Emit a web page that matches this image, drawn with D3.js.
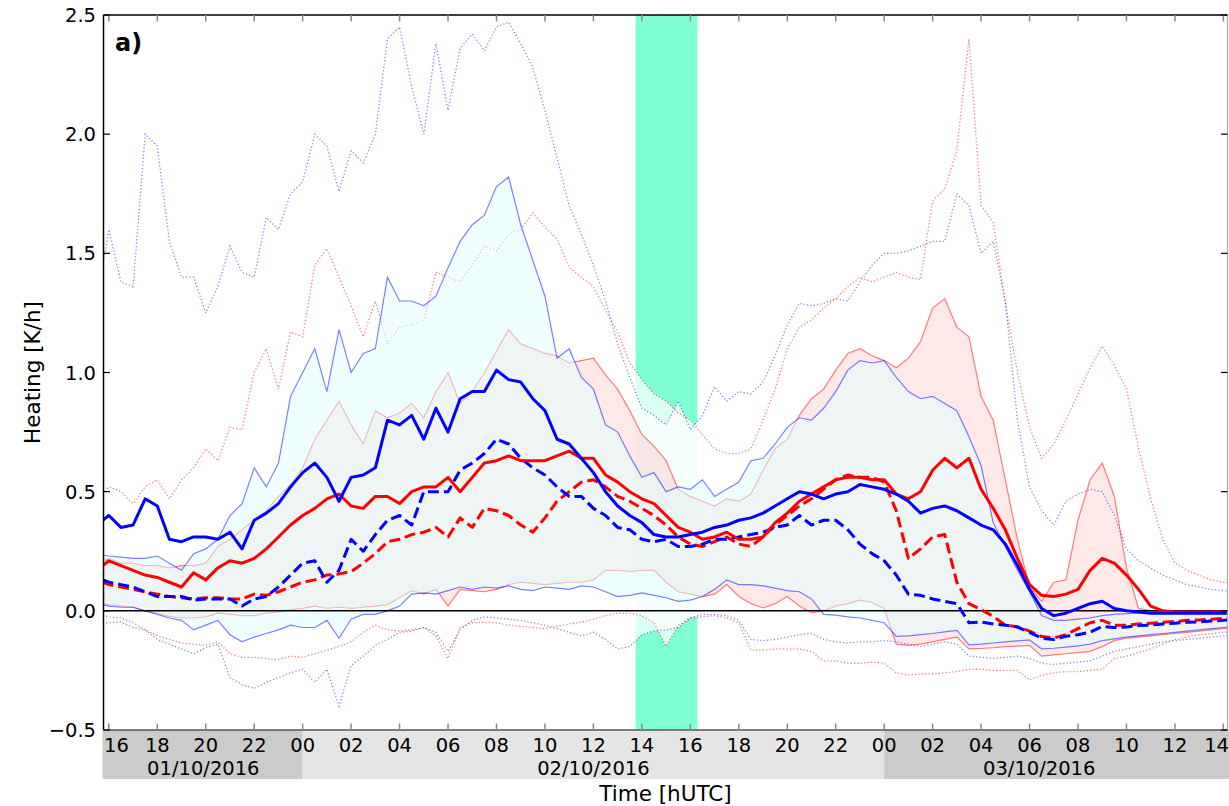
<!DOCTYPE html>
<html><head><meta charset="utf-8">
<script src="https://cdn.jsdelivr.net/npm/d3@7"></script>
<style>body{margin:0;background:#fff}svg{display:block}text{font-family:"DejaVu Sans",sans-serif;fill:#000}</style>
</head><body><svg id="c" width="1229" height="806"></svg>
<script>
// ---------------- data (hours since 01/10/2016 00 UTC) ----------------
const hours = [15.75, ...d3.range(16, 62.5, 0.5), 62.25];
const hourDomain = [15.78, 62.17];
const heatDomain = [-0.5, 2.5];
const band = [37.74, 40.29];
const xTickHours = d3.range(16, 63, 2);
const yTickValues = [-0.5, 0, 0.5, 1.0, 1.5, 2.0, 2.5];
const dayLabels = ["01/10/2016", "02/10/2016", "03/10/2016"];
const dayStart = [15.78, 24, 48];
const dayEnd = [24, 48, 62.25];
const dayCenter = [19.9, 36, 54.4];

const blueMean = [0.38,
 0.40,0.35,0.36,0.47,0.44,0.30,0.29,0.31,0.31,0.30,0.33,0.26,0.38,0.41,0.45,0.52,0.58,0.62,0.56,0.46,0.56,0.57,0.60,0.80,
 0.78,0.82,0.72,0.85,0.75,0.89,0.92,0.92,1.01,0.97,0.96,0.89,0.84,0.72,0.70,0.64,0.58,0.50,0.44,0.40,0.37,0.32,0.31,0.31,
 0.32,0.33,0.35,0.36,0.38,0.39,0.41,0.44,0.47,0.50,0.49,0.47,0.49,0.50,0.53,0.52,0.51,0.49,0.46,0.41,0.43,0.44,0.42,0.39,
 0.36,0.34,0.28,0.19,0.09,0.01,-0.02,-0.01,0.01,0.03,0.04,0.01,0.00,-0.005,-0.01,-0.01,-0.01,-0.01,-0.01,-0.01,
 -0.01,-0.01];
const redMean = [0.19,
 0.21,0.19,0.17,0.15,0.14,0.12,0.10,0.16,0.13,0.18,0.21,0.20,0.22,0.26,0.31,0.36,0.40,0.43,0.47,0.49,0.44,0.43,0.48,0.48,
 0.45,0.50,0.52,0.52,0.56,0.50,0.56,0.62,0.63,0.65,0.63,0.63,0.63,0.65,0.67,0.64,0.64,0.57,0.54,0.50,0.47,0.45,0.40,0.35,
 0.33,0.30,0.31,0.33,0.30,0.30,0.31,0.37,0.41,0.46,0.49,0.52,0.55,0.56,0.56,0.55,0.55,0.49,0.47,0.50,0.59,0.64,0.60,0.64,
 0.51,0.43,0.34,0.22,0.11,0.065,0.06,0.07,0.09,0.17,0.22,0.20,0.15,0.09,0.02,0.00,-0.005,-0.005,-0.005,-0.005,
 -0.005,-0.005];
const blueDash = [0.13,
 0.12,0.11,0.10,0.08,0.06,0.06,0.06,0.045,0.05,0.05,0.05,0.02,0.05,0.06,0.10,0.15,0.20,0.21,0.12,0.17,0.30,0.25,0.32,0.38,
 0.40,0.36,0.50,0.50,0.50,0.59,0.62,0.66,0.72,0.70,0.64,0.60,0.57,0.52,0.48,0.48,0.43,0.40,0.35,0.34,0.30,0.29,0.30,0.27,
 0.27,0.28,0.30,0.30,0.31,0.32,0.33,0.35,0.36,0.40,0.36,0.38,0.38,0.34,0.28,0.24,0.21,0.15,0.07,0.065,0.05,0.04,0.03,-0.05,
 -0.047,-0.055,-0.06,-0.068,-0.09,-0.115,-0.12,-0.107,-0.10,-0.09,-0.065,-0.07,-0.068,-0.062,-0.06,-0.055,-0.052,-0.048,-0.046,-0.043,
 -0.04,-0.038];
const redDash = [0.12,
 0.11,0.10,0.09,0.08,0.07,0.06,0.055,0.05,0.055,0.055,0.05,0.05,0.07,0.065,0.08,0.10,0.12,0.13,0.15,0.155,0.165,0.20,0.24,0.29,
 0.30,0.32,0.33,0.35,0.31,0.39,0.35,0.43,0.42,0.40,0.36,0.33,0.39,0.46,0.50,0.54,0.55,0.52,0.48,0.46,0.43,0.40,0.36,0.31,
 0.28,0.27,0.29,0.31,0.28,0.27,0.31,0.36,0.40,0.44,0.47,0.51,0.55,0.57,0.56,0.56,0.54,0.42,0.22,0.26,0.31,0.32,0.12,0.03,
 0.005,-0.023,-0.06,-0.067,-0.085,-0.108,-0.114,-0.10,-0.075,-0.05,-0.04,-0.06,-0.06,-0.055,-0.052,-0.048,-0.045,-0.04,-0.038,-0.035,
 -0.032,-0.03];
const blueUp = [0.235,
 0.23,0.225,0.22,0.22,0.23,0.20,0.17,0.24,0.26,0.30,0.40,0.45,0.60,0.52,0.62,0.90,1.00,1.10,0.92,1.18,1.00,1.08,1.10,1.40,
 1.30,1.30,1.28,1.32,1.44,1.55,1.62,1.66,1.78,1.82,1.62,1.47,1.32,1.06,1.10,0.98,0.93,0.78,0.75,0.65,0.56,0.58,0.50,0.52,
 0.51,0.55,0.48,0.51,0.54,0.63,0.64,0.70,0.77,0.81,0.80,0.85,0.92,1.01,1.05,1.04,1.05,0.98,0.92,0.89,0.90,0.87,0.84,0.73,
 0.61,0.37,0.27,0.17,0.08,-0.02,-0.04,-0.04,-0.035,-0.03,-0.02,-0.015,-0.012,-0.01,-0.01,-0.01,-0.01,-0.01,-0.01,-0.01,
 -0.01,-0.01];
const redUp = [0.21,
 0.22,0.20,0.20,0.19,0.19,0.18,0.19,0.19,0.20,0.27,0.30,0.34,0.38,0.42,0.48,0.53,0.60,0.72,0.80,0.88,0.78,0.70,0.84,0.81,
 0.83,0.87,0.81,0.92,1.00,0.87,0.92,1.00,1.09,1.18,1.12,1.10,1.08,1.07,1.04,1.05,1.06,0.99,0.93,0.84,0.74,0.69,0.63,0.51,
 0.48,0.46,0.44,0.47,0.46,0.49,0.59,0.68,0.72,0.82,0.89,0.93,1.01,1.08,1.10,1.07,1.05,1.02,1.06,1.13,1.27,1.31,1.19,1.15,
 0.90,0.80,0.55,0.30,0.10,0.04,0.12,0.13,0.38,0.55,0.62,0.48,0.18,0.01,0.00,-0.005,-0.01,-0.01,-0.01,-0.01,
 -0.01,-0.01];
const blueLo = [0.025,
 0.02,0.015,0.015,0.00,-0.015,-0.03,-0.04,-0.08,-0.06,-0.04,-0.10,-0.13,-0.11,-0.095,-0.08,-0.06,-0.07,-0.07,-0.04,-0.115,-0.035,-0.015,-0.015,0.00,
 0.02,0.07,0.075,0.07,0.085,0.10,0.09,0.10,0.095,0.105,0.09,0.085,0.10,0.095,0.09,0.105,0.10,0.08,0.06,0.065,0.075,0.065,0.055,0.04,
 0.045,0.06,0.09,0.13,0.11,0.11,0.105,0.095,0.085,0.08,0.05,-0.015,-0.018,-0.025,-0.03,-0.04,-0.05,-0.107,-0.105,-0.10,-0.095,-0.088,-0.082,-0.143,
 -0.14,-0.135,-0.13,-0.126,-0.122,-0.16,-0.157,-0.152,-0.147,-0.14,-0.125,-0.118,-0.11,-0.105,-0.10,-0.095,-0.09,-0.085,-0.08,-0.075,
 -0.07,-0.068];
const redLo = [0.03,
 0.025,0.02,0.015,0.00,-0.01,-0.023,-0.03,-0.03,-0.025,-0.01,-0.015,-0.02,-0.02,-0.01,-0.005,0.005,0.01,0.02,0.01,0.015,0.01,0.015,0.02,0.025,
 0.055,0.085,0.07,0.09,0.02,0.09,0.085,0.08,0.09,0.11,0.12,0.115,0.11,0.115,0.12,0.12,0.13,0.17,0.17,0.165,0.17,0.17,0.12,0.08,
 0.07,0.06,0.07,0.11,0.06,0.03,0.012,0.03,0.06,0.02,-0.008,0.00,0.02,0.03,0.045,0.035,0.01,-0.14,-0.145,-0.14,-0.13,-0.12,-0.11,-0.16,
 -0.158,-0.155,-0.15,-0.148,-0.145,-0.19,-0.185,-0.18,-0.175,-0.17,-0.15,-0.125,-0.115,-0.11,-0.105,-0.10,-0.095,-0.09,-0.085,-0.08,
 -0.075,-0.072];
const blueMax = [1.45,
 1.60,1.38,1.36,2.00,1.95,1.55,1.40,1.40,1.25,1.36,1.53,1.42,1.40,1.65,1.60,1.75,1.80,2.00,1.95,1.76,1.93,1.88,2.00,2.40,
 2.45,2.20,2.00,2.38,2.10,2.36,2.42,2.35,2.45,2.47,2.38,2.28,2.10,1.90,1.70,1.58,1.45,1.30,1.12,0.98,0.85,0.82,0.78,0.88,
 0.76,0.82,0.94,0.88,0.92,0.91,0.96,1.07,1.20,1.29,1.28,1.29,1.31,1.30,1.38,1.45,1.50,1.50,1.51,1.53,1.55,1.55,1.75,1.70,
 1.50,1.55,1.30,0.80,0.52,0.42,0.36,0.46,0.49,0.51,0.50,0.40,0.26,0.21,0.18,0.15,0.13,0.11,0.10,0.09,
 0.085,0.08];
const redMax = [0.49,
 0.52,0.50,0.45,0.52,0.55,0.47,0.55,0.60,0.68,0.63,0.77,0.76,1.00,1.10,0.93,1.17,1.15,1.45,1.52,1.40,1.28,1.15,1.30,1.12,
 1.19,1.20,1.22,1.42,1.40,1.38,1.45,1.53,1.51,1.58,1.60,1.67,1.61,1.56,1.44,1.40,1.36,1.26,1.17,1.04,0.97,0.91,0.88,0.83,
 0.80,0.74,0.68,0.66,0.66,0.68,0.80,0.93,1.10,1.19,1.22,1.27,1.31,1.36,1.40,1.38,1.40,1.42,1.40,1.39,1.72,1.77,1.93,2.40,
 1.70,1.63,1.29,1.00,0.77,0.64,0.70,0.80,0.91,1.02,1.11,1.03,0.93,0.68,0.47,0.30,0.20,0.17,0.15,0.13,
 0.12,0.12];
const blueMin = [-0.05,
 -0.05,-0.047,-0.07,-0.08,-0.12,-0.14,-0.16,-0.18,-0.155,-0.14,-0.28,-0.31,-0.325,-0.30,-0.28,-0.26,-0.245,-0.30,-0.245,-0.40,-0.23,-0.19,-0.145,-0.12,
 -0.09,-0.085,-0.07,-0.09,-0.17,-0.08,-0.04,-0.025,-0.03,-0.035,-0.04,-0.05,-0.06,-0.075,-0.09,-0.105,-0.09,-0.12,-0.16,-0.15,-0.10,-0.085,-0.08,-0.07,
 -0.03,-0.015,-0.015,-0.02,-0.04,-0.12,-0.125,-0.12,-0.11,-0.10,-0.095,-0.12,-0.13,-0.135,-0.13,-0.13,-0.125,-0.13,-0.14,-0.15,-0.14,-0.13,-0.14,-0.19,
 -0.195,-0.20,-0.195,-0.19,-0.20,-0.22,-0.225,-0.22,-0.215,-0.21,-0.19,-0.17,-0.16,-0.15,-0.14,-0.13,-0.125,-0.12,-0.115,-0.11,
 -0.105,-0.105];
const redMin = [-0.02,
 -0.025,-0.03,-0.05,-0.08,-0.105,-0.12,-0.135,-0.14,-0.145,-0.13,-0.18,-0.195,-0.195,-0.20,-0.205,-0.19,-0.195,-0.18,-0.165,-0.15,-0.13,-0.09,-0.06,-0.08,
 -0.085,-0.08,-0.07,-0.105,-0.20,-0.07,-0.05,-0.048,-0.05,-0.06,-0.065,-0.07,-0.075,-0.065,-0.055,-0.048,-0.035,-0.02,-0.01,-0.01,-0.02,-0.05,-0.15,-0.06,
 -0.03,-0.025,-0.02,-0.03,-0.05,-0.165,-0.165,-0.16,-0.16,-0.16,-0.17,-0.21,-0.21,-0.22,-0.22,-0.215,-0.22,-0.26,-0.27,-0.265,-0.265,-0.26,-0.255,-0.245,
 -0.245,-0.25,-0.25,-0.25,-0.29,-0.27,-0.26,-0.255,-0.255,-0.25,-0.245,-0.20,-0.19,-0.175,-0.16,-0.14,-0.12,-0.11,-0.10,-0.095,
 -0.09,-0.088];

// ---------------- drawing ----------------
const L = 103.5, R = 1227.5, T = 15, B = 730;
const x = d3.scaleLinear().domain(hourDomain).range([L, R]);
const y = d3.scaleLinear().domain(heatDomain).range([B, T]);
const svg = d3.select("#c");

const all = {blueMean, redMean, blueDash, redDash, blueUp, redUp, blueLo, redLo, blueMax, redMax, blueMin, redMin};
for (const k in all) if (all[k].length !== hours.length) console.error(k, all[k].length, hours.length);

svg.append("defs").append("clipPath").attr("id", "clip")
  .append("rect").attr("x", L).attr("y", T).attr("width", R - L).attr("height", B - T);
const g = svg.append("g").attr("clip-path", "url(#clip)");

const n = hours.length;
const idx = d3.range(n);
const area = (lo, hi) => d3.area().x(i => x(hours[i])).y0(i => y(lo[i])).y1(i => y(hi[i]))(idx);
const line = v => d3.line().x(i => x(hours[i])).y(i => y(v[i]))(idx);

// highlighted period
g.append("rect").attr("x", x(band[0])).attr("width", x(band[1]) - x(band[0]))
  .attr("y", T).attr("height", B - T).attr("fill", "#7fffd4");

// min-max envelopes (white, semi-opaque)
g.append("path").attr("d", area(redMin, redMax)).attr("fill", "#fff").attr("fill-opacity", 0.72);
g.append("path").attr("d", area(blueMin, blueMax)).attr("fill", "#fff").attr("fill-opacity", 0.72);

// red spread
g.append("path").attr("d", area(redLo, redUp)).attr("fill", "rgb(255,150,150)").attr("fill-opacity", 0.22);
[redMax, redMin].forEach(v => g.append("path").attr("d", line(v)).attr("fill", "none")
  .attr("stroke", "rgba(255,0,0,0.55)").attr("stroke-width", 1.3).attr("stroke-dasharray", "1.2,2.2"));
[redUp, redLo].forEach(v => g.append("path").attr("d", line(v)).attr("fill", "none")
  .attr("stroke", "rgba(255,0,0,0.5)").attr("stroke-width", 1.2));

// blue spread
g.append("path").attr("d", area(blueLo, blueUp)).attr("fill", "rgb(224,255,255)").attr("fill-opacity", 0.5);
[blueUp, blueLo].forEach(v => g.append("path").attr("d", line(v)).attr("fill", "none")
  .attr("stroke", "rgba(0,0,255,0.5)").attr("stroke-width", 1.2));
[blueMax, blueMin].forEach(v => g.append("path").attr("d", line(v)).attr("fill", "none")
  .attr("stroke", "rgba(0,0,255,0.5)").attr("stroke-width", 1.3).attr("stroke-dasharray", "1.2,2.2"));

// zero line
g.append("line").attr("x1", L).attr("x2", R).attr("y1", y(0)).attr("y2", y(0))
  .attr("stroke", "#000").attr("stroke-width", 1.5);

// main lines
const mainLine = (v, color, dash) => g.append("path").attr("d", line(v)).attr("fill", "none")
  .attr("stroke", color).attr("stroke-width", 3).attr("stroke-linejoin", "round")
  .attr("stroke-dasharray", dash || null);
mainLine(redDash, "#ff0000", "11,5");
mainLine(blueDash, "#0000ff", "11,5");
mainLine(redMean, "#ff0000");
mainLine(blueMean, "#0000ff");

// date bar
dayLabels.forEach((lab, i) => {
  const x0 = i === 0 ? L - 1 : x(dayStart[i]);
  const x1 = i === dayLabels.length - 1 ? 1229 : x(dayEnd[i]);
  svg.append("rect").attr("x", x0).attr("y", B).attr("width", x1 - x0).attr("height", 49)
    .attr("fill", i % 2 === 0 ? "#cbcbcb" : "#e5e5e5");
  svg.append("text").attr("x", x(dayCenter[i])).attr("y", 775).attr("text-anchor", "middle")
    .attr("font-size", 19.5).text(lab);
});

// spines
svg.append("line").attr("x1", L).attr("x2", R).attr("y1", T).attr("y2", T).attr("stroke", "#000").attr("stroke-width", 1.5);
svg.append("line").attr("x1", L).attr("x2", L).attr("y1", T).attr("y2", B).attr("stroke", "#000").attr("stroke-width", 1.5);
svg.append("line").attr("x1", R).attr("x2", R).attr("y1", T).attr("y2", B).attr("stroke", "#aaa").attr("stroke-width", 1.2);
svg.append("line").attr("x1", L).attr("x2", R).attr("y1", B).attr("y2", B).attr("stroke", "#555").attr("stroke-width", 1.5);

// x ticks (inside, top & bottom)
xTickHours.forEach(h => {
  const xp = x(h);
  svg.append("line").attr("x1", xp).attr("x2", xp).attr("y1", T).attr("y2", T + 6.5).attr("stroke", "#888").attr("stroke-width", 1.5);
  svg.append("line").attr("x1", xp).attr("x2", xp).attr("y1", B).attr("y2", B - 6.5).attr("stroke", "#888").attr("stroke-width", 1.5);
  const t = svg.append("text").attr("x", xp).attr("y", 752).attr("text-anchor", "middle").attr("font-size", 19.5)
    .text(String(h % 24).padStart(2, "0"));
  const w = t.node().getComputedTextLength();
  if (xp - w / 2 < L) t.attr("x", L + 0.5 + w / 2);
  if (xp + w / 2 > 1229) t.attr("x", 1229 - w / 2);
});

// y ticks (inside, left & right)
const fmt = d3.format(".1f");
yTickValues.forEach(v => {
  const yp = y(v);
  svg.append("line").attr("x1", L).attr("x2", L + 6.5).attr("y1", yp).attr("y2", yp).attr("stroke", "#000").attr("stroke-width", 1.2);
  svg.append("line").attr("x1", R).attr("x2", R - 6.5).attr("y1", yp).attr("y2", yp).attr("stroke", "#000").attr("stroke-width", 1.2);
  svg.append("text").attr("x", 96).attr("y", yp + 7).attr("text-anchor", "end").attr("font-size", 19.5).text(fmt(v));
});

// labels
svg.append("text").attr("x", (L + R) / 2).attr("y", 801).attr("text-anchor", "middle").attr("font-size", 21.5).text("Time [hUTC]");
svg.append("text").attr("transform", `translate(40,${(T + B) / 2}) rotate(-90)`).attr("text-anchor", "middle")
  .attr("font-size", 21.5).text("Heating [K/h]");
svg.append("text").attr("x", 115).attr("y", 51).attr("font-size", 24).attr("font-weight", "bold").text("a)");
</script>
</body></html>
